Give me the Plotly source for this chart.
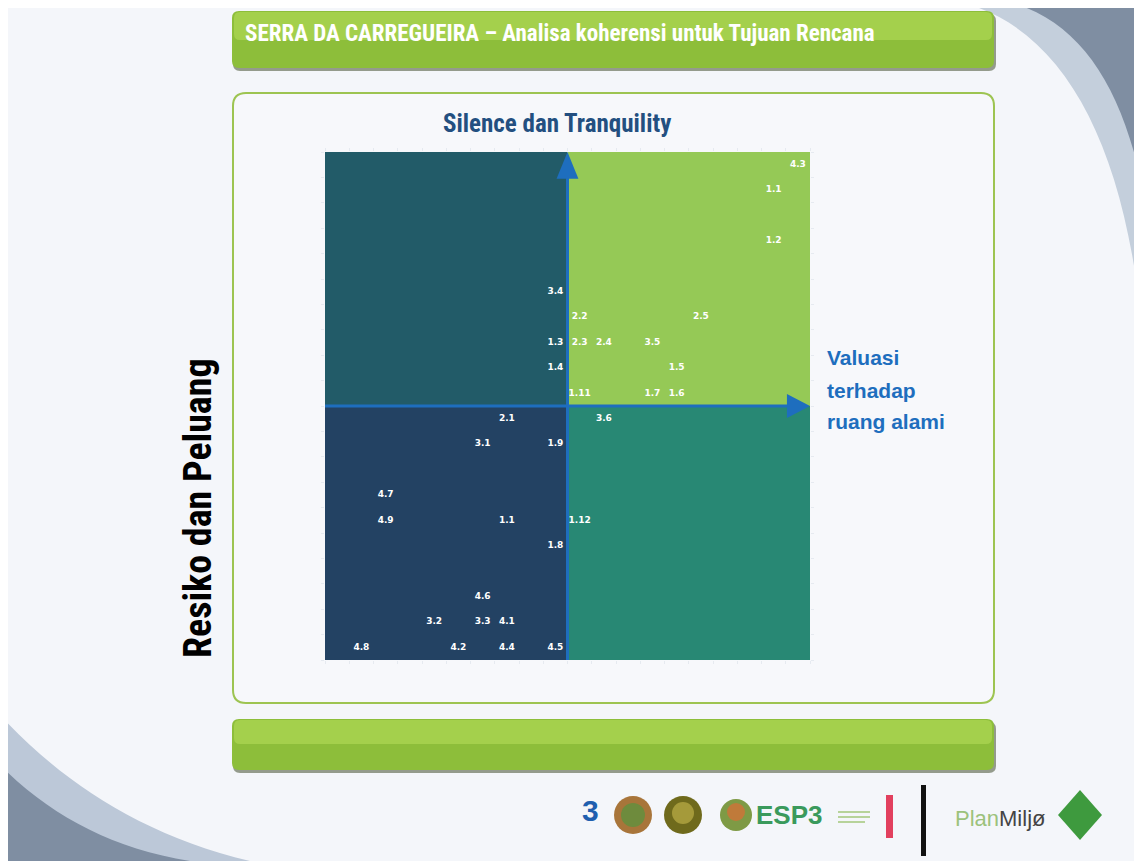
import plotly.graph_objects as go

# ---------------- data ----------------
labels = ["4.3", "1.1", "1.2", "2.2", "2.5", "2.3", "2.4", "3.5", "1.5", "1.11", "1.7", "1.6",
          "3.4", "1.3", "1.4",
          "2.1", "3.1", "1.9", "4.7", "4.9", "1.1", "1.8", "4.6", "3.2", "3.3", "4.1",
          "4.8", "4.2", "4.4", "4.5",
          "3.6", "1.12"]
x_vals = [9.5, 8.5, 8.5, 0.5, 5.5, 0.5, 1.5, 3.5, 4.5, 0.5, 3.5, 4.5,
          -0.5, -0.5, -0.5,
          -2.5, -3.5, -0.5, -7.5, -7.5, -2.5, -0.5, -3.5, -5.5, -3.5, -2.5,
          -8.5, -4.5, -2.5, -0.5,
          1.5, 0.5]
y_vals = [9.5, 8.5, 6.5, 3.5, 3.5, 2.5, 2.5, 2.5, 1.5, 0.5, 0.5, 0.5,
          4.5, 2.5, 1.5,
          -0.5, -1.5, -1.5, -3.5, -4.5, -4.5, -5.5, -7.5, -8.5, -8.5, -8.5,
          -9.5, -9.5, -9.5, -9.5,
          -0.5, -4.5]

quad_colors = {"tl": "#225B68", "tr": "#95C956", "bl": "#234263", "br": "#288874"}

OFF = 8  # page body margin
W, H = 1142 - OFF, 861 - OFF


def X(px):
    return (px - OFF) / W


def Y(py):
    return 1 - (py - OFF) / H


def rrect_path(x0, y0, x1, y1, r):
    return (f"M {X(x0 + r)},{Y(y0)} L {X(x1 - r)},{Y(y0)} Q {X(x1)},{Y(y0)} {X(x1)},{Y(y0 + r)} "
            f"L {X(x1)},{Y(y1 - r)} Q {X(x1)},{Y(y1)} {X(x1 - r)},{Y(y1)} "
            f"L {X(x0 + r)},{Y(y1)} Q {X(x0)},{Y(y1)} {X(x0)},{Y(y1 - r)} "
            f"L {X(x0)},{Y(y0 + r)} Q {X(x0)},{Y(y0)} {X(x0 + r)},{Y(y0)} Z")


shapes = []


def bez(p0, c1, c2, p1, close_pts):
    s = f"M {X(p0[0])},{Y(p0[1])} C {X(c1[0])},{Y(c1[1])} {X(c2[0])},{Y(c2[1])} {X(p1[0])},{Y(p1[1])}"
    for cp in close_pts:
        s += f" L {X(cp[0])},{Y(cp[1])}"
    return s + " Z"


def pshape(path, fill, line=None):
    return dict(type="path", xref="paper", yref="paper", layer="below",
                line=line or dict(width=0), fillcolor=fill, path=path)


# background swooshes
shapes.append(pshape(bez((950, 0), (1060, 20), (1125, 140), (1142, 330), [(1142, 0)]), "#C4CFDC"))
shapes.append(pshape(bez((1000, 0), (1075, 15), (1120, 80), (1142, 185), [(1142, 0)]), "#7F8EA2"))
shapes.append(pshape(bez((0, 715), (60, 780), (140, 835), (250, 861), [(0, 861)]), "#BCC8D8"))
shapes.append(pshape(bez((0, 765), (50, 815), (110, 848), (190, 861), [(0, 861)]), "#7F8EA2"))

# title bar
shapes.append(pshape(rrect_path(233, 14, 996, 71, 7), "rgba(70,80,50,0.55)"))
shapes.append(pshape(rrect_path(232, 11, 994, 68, 7), "#8DBE3A"))
shapes.append(pshape(rrect_path(234, 12, 992, 40, 6), "#A4D04C"))
# chart frame
shapes.append(pshape(rrect_path(233, 93, 994, 703, 13), "rgba(248,250,252,0.6)",
                     dict(width=2, color="#9DC451")))
# bottom bar
shapes.append(pshape(rrect_path(233, 722, 996, 773, 7), "rgba(70,80,50,0.55)"))
shapes.append(pshape(rrect_path(232, 719, 994, 770, 7), "#8DBE3A"))
shapes.append(pshape(rrect_path(234, 720, 992, 744, 6), "#A4D04C"))


def circ(cx, cy, r, col):
    return dict(type="circle", xref="paper", yref="paper", layer="below", line=dict(width=0),
                fillcolor=col, x0=X(cx - r), x1=X(cx + r), y0=Y(cy + r), y1=Y(cy - r))


def prect(x0, y0, x1, y1, col):
    return dict(type="rect", xref="paper", yref="paper", layer="below", line=dict(width=0),
                fillcolor=col, x0=X(x0), x1=X(x1), y0=Y(y1), y1=Y(y0))


# logos (simplified)
shapes.append(circ(633, 815, 19, "#A8753A"))
shapes.append(circ(633, 815, 12, "#6E8B3D"))
shapes.append(circ(683, 815, 19, "#6F6A1C"))
shapes.append(circ(683, 813, 11, "#A59A3A"))
shapes.append(circ(736, 815, 16, "#7E9A45"))
shapes.append(circ(736, 812, 9, "#C07A3A"))
shapes.append(prect(886, 795, 893, 838, "#E2405E"))
shapes.append(prect(838, 811, 870, 813, "#B7D39A"))
shapes.append(prect(838, 816, 870, 818, "#B7D39A"))
shapes.append(prect(838, 821, 865, 823, "#B7D39A"))
shapes.append(prect(921, 785, 926, 856, "#111111"))
shapes.append(pshape(f"M {X(1080)},{Y(790)} L {X(1102)},{Y(815)} L {X(1080)},{Y(840)} L {X(1058)},{Y(815)} Z",
                     "#3E9A3E"))

# quadrants (data coords)
for (x0, x1, y0, y1, key) in [(-10, 0, 0, 10, "tl"), (0, 10, 0, 10, "tr"),
                              (-10, 0, -10, 0, "bl"), (0, 10, -10, 0, "br")]:
    shapes.append(dict(type="rect", xref="x", yref="y", layer="below", line=dict(width=0),
                       fillcolor=quad_colors[key], x0=x0, x1=x1, y0=y0, y1=y1))

axis_blue = "#1E6EBE"
shapes.append(dict(type="line", xref="x", yref="y", x0=0, x1=0, y0=-10, y1=9.1,
                   line=dict(color=axis_blue, width=3)))
shapes.append(dict(type="line", xref="x", yref="y", x0=-10, x1=9.2, y0=0, y1=0,
                   line=dict(color=axis_blue, width=3)))
shapes.append(dict(type="path", xref="x", yref="y", line=dict(width=0), fillcolor=axis_blue,
                   path="M 0,10 L 0.45,8.95 L -0.45,8.95 Z"))
shapes.append(dict(type="path", xref="x", yref="y", line=dict(width=0), fillcolor=axis_blue,
                   path="M 10,0 L 9.05,0.47 L 9.05,-0.47 Z"))

fig = go.Figure()
fig.add_trace(go.Scatter(x=x_vals, y=y_vals, text=labels, mode="text",
                         textposition="middle center",
                         textfont=dict(color="white", size=9, family="DejaVu Sans", weight="bold"),
                         hoverinfo="text", showlegend=False))

narrow = "Liberation Sans Narrow, Arial Narrow, Roboto Condensed, sans-serif"
sans = "Liberation Sans, Arial, sans-serif"


def ann(px, py, text, size, color, family, xanchor="left", angle=0):
    return dict(x=X(px), y=Y(py), xref="paper", yref="paper", xanchor=xanchor, yanchor="middle",
                text=text, showarrow=False, textangle=angle,
                font=dict(color=color, size=size, family=family))


annotations = [
    ann(243, 34, "<b>SERRA DA CARREGUEIRA – Analisa koherensi untuk Tujuan Rencana</b>", 23, "white", narrow),
    ann(557, 123, "<b>Silence dan Tranquility</b>", 25, "#234F80", narrow, "center"),
    ann(825, 358, "<b>Valuasi</b>", 21, axis_blue, sans),
    ann(825, 390, "<b>terhadap</b>", 21, axis_blue, sans),
    ann(825, 421, "<b>ruang alami</b>", 21, axis_blue, sans),
    ann(198, 508, "<b>Resiko dan Peluang</b>", 38, "#000000", narrow, "center", -90),
    ann(590, 810, "<b>3</b>", 30, "#1F5FAF", sans, "center"),
    ann(754, 815, "<b>ESP3</b>", 26, "#3A9A5C", sans),
    ann(953, 818, "<span style='color:#9CC27C'>Plan</span><span style='color:#444444'>Miljø</span>",
        22, "#444444", sans),
]

axis_common = dict(range=[-10, 10], showgrid=False, zeroline=False, showticklabels=False,
                   ticks="outside", ticklen=3, tickcolor="#E6EAF0", dtick=1, tick0=0,
                   showline=False, mirror="ticks", fixedrange=True)

fig.update_layout(
    width=W, height=H,
    margin=dict(l=0, r=0, t=0, b=0),
    paper_bgcolor="#F4F6FA",
    plot_bgcolor="rgba(0,0,0,0)",
    xaxis=dict(domain=[X(325), X(810)], **axis_common),
    yaxis=dict(domain=[Y(660), Y(152)], **axis_common),
    shapes=shapes,
    annotations=annotations,
    showlegend=False,
)

fig.write_html("out.html")
